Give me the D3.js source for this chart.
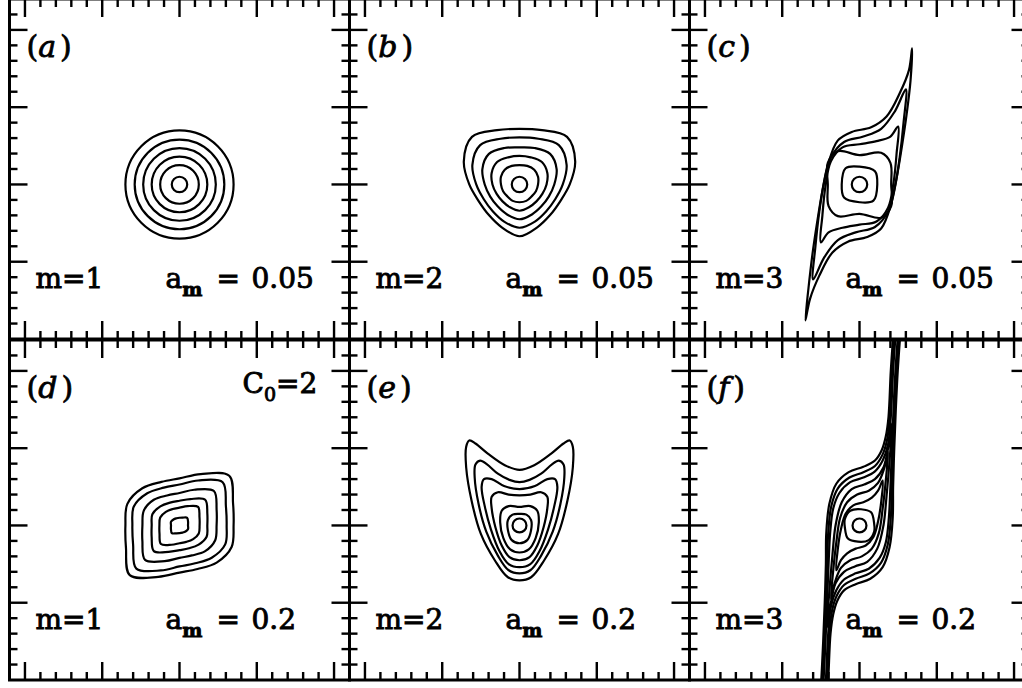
<!DOCTYPE html>
<html>
<head>
<meta charset="utf-8">
<script src="https://d3js.org/d3.v7.min.js"></script>
<style>
  body { margin: 0; background: #fff; }
  svg { display: block; }
  text { font-family: "DejaVu Serif", serif; fill: #000; }
</style>
</head>
<body>
<svg id="chart" width="1022" height="688"></svg>
<script>
// panel text
var panelLetters = ["a", "b", "c", "d", "e", "f"];
var modes = [1, 2, 3, 1, 2, 3];
var amps = ["0.05", "0.05", "0.05", "0.2", "0.2", "0.2"];

// tick positions (data units)
var xTicks = d3.range(-11, 12).map(function(i){ return i * 0.2; });
var yTicks = d3.range(-10, 13).map(function(i){ return i * 0.2; });

// polar angles (deg) for rings given as radii
var angles16 = d3.range(16).map(function(i){ return i * 22.5; });

// (a) m=1, a=0.05 : circles
var circlesA = [0.70, 0.58, 0.47, 0.36, 0.25, 0.10];

// (b) m=2, a=0.05 : radii at angles16
var ringsB = [
  [0.65,0.78,0.87,0.76,0.72,0.76,0.87,0.78,0.65,0.57,0.56,0.60,0.67,0.60,0.56,0.57],
  [0.56,0.66,0.72,0.64,0.61,0.64,0.72,0.66,0.56,0.50,0.49,0.52,0.56,0.52,0.49,0.50],
  [0.45,0.52,0.56,0.51,0.48,0.51,0.56,0.52,0.45,0.41,0.40,0.42,0.45,0.42,0.40,0.41],
  [0.35,0.39,0.41,0.38,0.37,0.38,0.41,0.39,0.35,0.32,0.31,0.32,0.34,0.32,0.31,0.32],
  [0.24,0.26,0.27,0.26,0.25,0.26,0.27,0.26,0.24,0.23,0.22,0.23,0.23,0.23,0.22,0.23]
];
var circlesB = [0.10];

// (c) m=3, a=0.05
var contoursC = [
  [[0.68,1.76],[0.66,1.34],[0.61,0.91],[0.55,0.50],[0.48,0.08],[0.41,-0.25],[0.28,-0.57],[0.10,-0.68],
   [-0.15,-0.74],[-0.35,-0.88],[-0.52,-1.18],[-0.64,-1.48],[-0.70,-1.76],[-0.66,-1.34],[-0.61,-0.91],
   [-0.55,-0.50],[-0.48,-0.08],[-0.41,0.25],[-0.28,0.57],[-0.10,0.68],[0.15,0.74],[0.35,0.88],[0.52,1.18],[0.64,1.48]],
  [[0.60,1.23],[0.57,0.80],[0.52,0.35],[0.46,-0.02],[0.37,-0.35],[0.20,-0.55],[-0.05,-0.62],[-0.28,-0.72],[-0.46,-0.95],
   [-0.60,-1.23],[-0.57,-0.80],[-0.52,-0.35],[-0.46,0.02],[-0.37,0.35],[-0.20,0.55],[0.05,0.62],[0.28,0.72],[0.46,0.95]],
  [[0.50,0.75],[0.48,0.40],[0.44,0.02],[0.37,-0.30],[0.22,-0.48],[0,-0.52],[-0.22,-0.56],[-0.40,-0.62],
   [-0.50,-0.75],[-0.48,-0.40],[-0.44,-0.02],[-0.37,0.30],[-0.22,0.48],[0,0.52],[0.22,0.56],[0.40,0.62]],
  [[0.41,0],[0.40,0.28],[0.28,0.41],[0,0.38],[-0.28,0.43],[-0.41,0.28],
   [-0.41,0],[-0.40,-0.28],[-0.28,-0.41],[0,-0.38],[0.28,-0.43],[0.41,-0.28]],
  [[0.23,0],[0.20,0.17],[0,0.23],[-0.18,0.21],[-0.23,0],[-0.20,-0.17],[0,-0.23],[0.18,-0.21]]
];
var circlesC = [0.10];

// (d) m=1, a=0.2 : radii at angles16
var ringsD = [
  [0.70,0.75,0.91,0.72,0.61,0.61,0.68,0.73,0.70,0.75,0.91,0.72,0.61,0.61,0.68,0.73],
  [0.61,0.65,0.79,0.63,0.53,0.53,0.59,0.64,0.61,0.65,0.79,0.63,0.53,0.53,0.59,0.64],
  [0.48,0.52,0.63,0.50,0.42,0.42,0.47,0.50,0.48,0.52,0.63,0.50,0.42,0.42,0.47,0.50],
  [0.36,0.39,0.47,0.37,0.32,0.32,0.35,0.38,0.36,0.39,0.47,0.37,0.32,0.32,0.35,0.38],
  [0.26,0.28,0.34,0.27,0.23,0.23,0.25,0.27,0.26,0.28,0.34,0.27,0.23,0.23,0.25,0.27],
  [0.11,0.12,0.14,0.11,0.10,0.10,0.11,0.12,0.11,0.12,0.14,0.11,0.10,0.10,0.11,0.12]
];

// (e) m=2, a=0.2
var contoursE = [
  [[0,-0.71],[0.15,-0.67],[0.32,-0.45],[0.50,-0.11],[0.62,0.32],[0.69,0.75],[0.69,1.02],[0.65,1.10],[0.57,1.06],
   [0.41,0.93],[0.19,0.78],[0,0.72],[-0.19,0.78],[-0.41,0.93],[-0.57,1.06],[-0.65,1.10],[-0.69,1.02],[-0.69,0.75],
   [-0.62,0.32],[-0.50,-0.11],[-0.32,-0.45],[-0.15,-0.67]],
  [[0,-0.62],[0.14,-0.58],[0.28,-0.39],[0.43,-0.08],[0.53,0.28],[0.58,0.62],[0.57,0.79],[0.51,0.84],[0.42,0.79],
   [0.28,0.67],[0.13,0.59],[0,0.56],[-0.13,0.59],[-0.28,0.67],[-0.42,0.79],[-0.51,0.84],[-0.57,0.79],[-0.58,0.62],
   [-0.53,0.28],[-0.43,-0.08],[-0.28,-0.39],[-0.14,-0.58]],
  [[0,-0.54],[0.14,-0.50],[0.26,-0.33],[0.37,-0.05],[0.45,0.25],[0.49,0.50],[0.46,0.60],[0.36,0.60],[0.20,0.51],
   [0,0.47],[-0.20,0.51],[-0.36,0.60],[-0.46,0.60],[-0.49,0.50],[-0.45,0.25],[-0.37,-0.05],[-0.26,-0.33],[-0.14,-0.50]],
  [[0,-0.45],[0.13,-0.41],[0.23,-0.26],[0.31,-0.03],[0.36,0.22],[0.36,0.37],[0.28,0.43],[0.14,0.40],[0,0.39],
   [-0.14,0.40],[-0.28,0.43],[-0.36,0.37],[-0.36,0.22],[-0.31,-0.03],[-0.23,-0.26],[-0.13,-0.41]],
  [[0,-0.35],[0.12,-0.31],[0.21,-0.16],[0.25,0.04],[0.23,0.19],[0.14,0.25],[0,0.24],
   [-0.14,0.25],[-0.23,0.19],[-0.25,0.04],[-0.21,-0.16],[-0.12,-0.31]],
  [[0,-0.23],[0.10,-0.19],[0.15,-0.06],[0.15,0.07],[0.09,0.14],[0,0.15],
   [-0.09,0.14],[-0.15,0.07],[-0.15,-0.06],[-0.10,-0.19]]
];
var circlesE = [0.09];

// (f) m=3, a=0.2 : closed contours and open contours leaving the box
var contoursF = [
  [[0.19,0.02],[0.15,0.17],[0.02,0.21],[-0.12,0.19],[-0.19,0.08],[-0.19,-0.02],[-0.15,-0.17],[-0.02,-0.21],[0.12,-0.19],[0.19,-0.08]],
  [[0.30,0.58],[0.28,0.30],[0.24,0.05],[0.18,-0.15],[0.08,-0.26],[-0.05,-0.30],[-0.16,-0.36],[-0.24,-0.45],
   [-0.30,-0.58],[-0.28,-0.30],[-0.24,-0.05],[-0.18,0.15],[-0.08,0.26],[0.05,0.30],[0.16,0.36],[0.24,0.45]],
  [[0.37,0.95],[0.34,0.58],[0.30,0.22],[0.25,-0.10],[0.16,-0.30],[0.03,-0.40],[-0.12,-0.45],[-0.24,-0.55],[-0.32,-0.74],
   [-0.37,-0.95],[-0.34,-0.58],[-0.30,-0.22],[-0.25,0.10],[-0.16,0.30],[-0.03,0.40],[0.12,0.45],[0.24,0.55],[0.32,0.74]],
  [[0.42,1.32],[0.39,0.85],[0.35,0.38],[0.31,0.0],[0.23,-0.30],[0.10,-0.47],[-0.06,-0.53],[-0.20,-0.60],[-0.31,-0.75],[-0.37,-1.0],
   [-0.42,-1.32],[-0.39,-0.85],[-0.35,-0.38],[-0.31,0.0],[-0.23,0.30],[-0.10,0.47],[0.06,0.53],[0.20,0.60],[0.31,0.75],[0.37,1.0]]
];
var openF = [
  [[0.50,2.5],[0.465,2.0],[0.44,1.5],[0.42,1.0],[0.40,0.5],[0.38,0.1],[0.34,-0.22],[0.26,-0.42],[0.12,-0.56],
   [-0.05,-0.62],[-0.20,-0.70],[-0.30,-0.84],[-0.37,-1.05],[-0.405,-1.4],[-0.435,-2.0],[-0.47,-2.5]],
  [[-0.50,-2.5],[-0.465,-2.0],[-0.44,-1.5],[-0.42,-1.0],[-0.40,-0.5],[-0.38,-0.1],[-0.34,0.22],[-0.26,0.42],[-0.12,0.56],
   [0.05,0.62],[0.20,0.70],[0.30,0.84],[0.37,1.05],[0.405,1.4],[0.435,2.0],[0.47,2.5]],
  [[0.515,2.5],[0.48,2.0],[0.455,1.5],[0.435,1.0],[0.418,0.5],[0.405,0.1],[0.365,-0.25],[0.28,-0.48],[0.13,-0.62],
   [-0.05,-0.69],[-0.20,-0.77],[-0.295,-0.91],[-0.355,-1.1],[-0.39,-1.4],[-0.42,-2.0],[-0.455,-2.5]],
  [[-0.515,-2.5],[-0.48,-2.0],[-0.455,-1.5],[-0.435,-1.0],[-0.418,-0.5],[-0.405,-0.1],[-0.365,0.25],[-0.28,0.48],[-0.13,0.62],
   [0.05,0.69],[0.20,0.77],[0.295,0.91],[0.355,1.1],[0.39,1.4],[0.42,2.0],[0.455,2.5]],
  [[0.53,2.5],[0.495,2.0],[0.47,1.5],[0.45,1.0],[0.435,0.5],[0.43,0.1],[0.39,-0.28],[0.30,-0.54],[0.14,-0.69],
   [-0.05,-0.76],[-0.20,-0.84],[-0.29,-0.98],[-0.34,-1.15],[-0.375,-1.4],[-0.405,-2.0],[-0.44,-2.5]],
  [[-0.53,-2.5],[-0.495,-2.0],[-0.47,-1.5],[-0.45,-1.0],[-0.435,-0.5],[-0.43,-0.1],[-0.39,0.28],[-0.30,0.54],[-0.14,0.69],
   [0.05,0.76],[0.20,0.84],[0.29,0.98],[0.34,1.15],[0.375,1.4],[0.405,2.0],[0.44,2.5]]
];
var circlesF = [0.09];

// layout
var W = 340, H = 340;
var colX = [9.5, 349.5, 689.5], rowY = [-1, 340];

var xs = d3.scaleLinear().domain([-2.2, 2.2]).range([0, W]);
var ys = d3.scaleLinear().domain([-2.0, 2.4]).range([H, 0]);

function polar(radii) {
  return radii.map(function(r, k){
    var t = angles16[k] * Math.PI / 180;
    return [r * Math.cos(t), r * Math.sin(t)];
  });
}

var panels = [
  { closed: [], open: [], circles: circlesA },
  { closed: ringsB.map(polar), open: [], circles: circlesB },
  { closed: contoursC, open: [], circles: circlesC },
  { closed: ringsD.map(polar), open: [], circles: [] },
  { closed: contoursE, open: [], circles: circlesE },
  { closed: contoursF, open: openF, circles: circlesF }
];

var closedLine = d3.line()
  .x(function(d){ return xs(d[0]); })
  .y(function(d){ return ys(d[1]); })
  .curve(d3.curveCatmullRomClosed.alpha(0.5));
var openLine = d3.line()
  .x(function(d){ return xs(d[0]); })
  .y(function(d){ return ys(d[1]); })
  .curve(d3.curveCatmullRom.alpha(0.5));

var svg = d3.select("#chart");
svg.append("rect").attr("width", 1022).attr("height", 688).attr("fill", "#fff");
var defs = svg.append("defs");

panels.forEach(function(p, i) {
  var g = svg.append("g")
    .attr("transform", "translate(" + colX[i % 3] + "," + rowY[Math.floor(i / 3)] + ")");

  defs.append("clipPath").attr("id", "clip" + i)
    .append("rect").attr("width", W).attr("height", H);

  var cg = g.append("g").attr("clip-path", "url(#clip" + i + ")")
    .attr("fill", "none").attr("stroke", "#000").attr("stroke-width", 2.2);

  cg.selectAll("path.closed").data(p.closed).enter().append("path")
    .attr("class", "closed").attr("d", closedLine);
  cg.selectAll("path.open").data(p.open).enter().append("path")
    .attr("class", "open").attr("d", openLine);
  cg.selectAll("circle").data(p.circles).enter().append("circle")
    .attr("cx", xs(0)).attr("cy", ys(0))
    .attr("r", function(r){ return xs(r) - xs(0); });

  // ticks
  var tg = g.append("g").attr("stroke", "#000").attr("stroke-width", 2.4);
  var isMajor = function(v){ return Math.abs(v - Math.round(v)) < 1e-6; };
  var xt = xTicks.filter(function(v){ return Math.abs(v) < 2.19; });
  var yt = yTicks.filter(function(v){ return v > -1.99 && v < 2.39; });

  xt.forEach(function(v) {
    var len = isMajor(v) ? 18 : 8;
    tg.append("line").attr("x1", xs(v)).attr("x2", xs(v)).attr("y1", 0).attr("y2", len);
    tg.append("line").attr("x1", xs(v)).attr("x2", xs(v)).attr("y1", H).attr("y2", H - len);
  });
  yt.forEach(function(v) {
    var len = isMajor(v) ? 18 : 8;
    tg.append("line").attr("y1", ys(v)).attr("y2", ys(v)).attr("x1", 0).attr("x2", len);
    tg.append("line").attr("y1", ys(v)).attr("y2", ys(v)).attr("x1", W).attr("x2", W - len);
  });

  g.append("rect").attr("width", W).attr("height", H)
    .attr("fill", "none").attr("stroke", "#000").attr("stroke-width", 3);

  // labels
  var lab = g.append("text").attr("x", 17).attr("y", 58).attr("font-size", 30)
    .attr("stroke", "#000").attr("stroke-width", 0.8);
  lab.append("tspan").text("(");
  lab.append("tspan").attr("font-style", "italic").text(panelLetters[i]);
  lab.append("tspan").attr("dx", 4).text(")");

  g.append("text").attr("x", 26).attr("y", 289).attr("font-size", 28)
    .attr("stroke", "#000").attr("stroke-width", 0.9)
    .text("m=" + modes[i]);

  var am = g.append("text").attr("x", 156).attr("y", 289).attr("font-size", 28)
    .attr("stroke", "#000").attr("stroke-width", 0.9);
  am.append("tspan").text("a");
  am.append("tspan").attr("font-size", 19).attr("dy", 8).attr("font-weight", "bold").text("m");
  am.append("tspan").attr("x", 207).attr("dy", -8).text("=");
  am.append("tspan").attr("x", 242).text(amps[i]);

  if (i === 3) {
    var c0 = g.append("text").attr("x", 233).attr("y", 53).attr("font-size", 28)
      .attr("stroke", "#000").attr("stroke-width", 0.9);
    c0.append("tspan").text("C");
    c0.append("tspan").attr("font-size", 19).attr("dy", 8).text("0");
    c0.append("tspan").attr("dy", -8).text("=2");
  }
});
</script>
</body>
</html>
